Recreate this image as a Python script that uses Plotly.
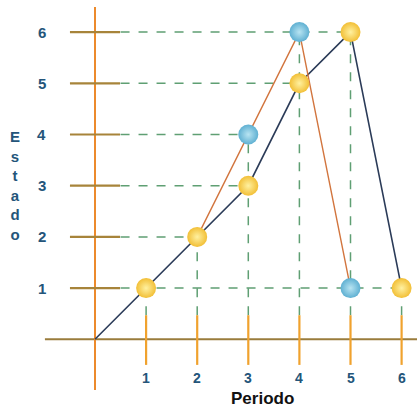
import plotly.graph_objects as go

# ---- data ----
periodo_ticks = [1, 2, 3, 4, 5, 6]
estado_ticks = [1, 2, 3, 4, 5, 6]

navy_periods = [0, 1, 2, 3, 4, 5, 6]
navy_states = [0, 1, 2, 3, 5, 6, 1]

orange_periods = [2, 3, 4, 5]
orange_states = [2, 4, 6, 1]

yellow_periods = [1, 2, 3, 4, 5, 6]
yellow_states = [1, 2, 3, 5, 6, 1]

blue_periods = [3, 4, 5]
blue_states = [4, 6, 1]

# ---- figure ----
fig = go.Figure()
shapes = []
annotations = []

GREEN = "#5f9f73"
all_pts = list(zip(yellow_periods + blue_periods, yellow_states + blue_states))

# dashed guide lines
for lvl in estado_ticks:
    xs = [p for p, s in all_pts if s == lvl]
    if xs:
        shapes.append(dict(type="line", x0=0.5, x1=max(xs), y0=lvl, y1=lvl,
                           line=dict(color=GREEN, width=1.5, dash="dash"), layer="below"))
for per in periodo_ticks:
    ys = [s for p, s in all_pts if p == per]
    if ys:
        shapes.append(dict(type="line", x0=per, x1=per, y0=0.47, y1=max(ys),
                           line=dict(color=GREEN, width=1.5, dash="dash"), layer="below"))

# axes
shapes.append(dict(type="line", x0=-0.98, x1=6.4, y0=0, y1=0,
                   line=dict(color="#9a7c3c", width=2), layer="below"))
shapes.append(dict(type="line", x0=0, x1=0, y0=-0.99, y1=6.49,
                   line=dict(color="#ec8a2c", width=2), layer="below"))
# tick segments
for lvl in estado_ticks:
    shapes.append(dict(type="line", x0=-0.49, x1=0.49, y0=lvl, y1=lvl,
                       line=dict(color="#a7843a", width=2.2), layer="below"))
for per in periodo_ticks:
    shapes.append(dict(type="line", x0=per, x1=per, y0=-0.5, y1=0.47,
                       line=dict(color="#f0a22e", width=2.2), layer="below"))

# lines
fig.add_trace(go.Scatter(x=navy_periods, y=navy_states, mode="lines",
                         line=dict(color="#2b3b58", width=1.6), hoverinfo="skip"))
fig.add_trace(go.Scatter(x=orange_periods, y=orange_states, mode="lines",
                         line=dict(color="#d2753e", width=1.4), hoverinfo="skip"))

# markers
fig.add_trace(go.Scatter(x=yellow_periods, y=yellow_states, mode="markers",
                         marker=dict(size=20, color="#f2bf36",
                                     gradient=dict(type="radial", color="#fff1a0"),
                                     line=dict(width=0))))
fig.add_trace(go.Scatter(x=blue_periods, y=blue_states, mode="markers",
                         marker=dict(size=20, color="#5fb0d2",
                                     gradient=dict(type="radial", color="#b8e4f2"),
                                     line=dict(width=0))))

LABEL = "#24557a"
FONT = "Liberation Sans, Arial"
for lvl in estado_ticks:
    annotations.append(dict(x=-1.04, y=lvl, text="<b>%d</b>" % lvl, showarrow=False,
                            font=dict(family=FONT, size=15, color=LABEL),
                            xanchor="center", yanchor="middle"))
for per in periodo_ticks:
    annotations.append(dict(x=per, y=-0.75, text="<b>%d</b>" % per, showarrow=False,
                            font=dict(family=FONT, size=14, color=LABEL),
                            xanchor="center", yanchor="middle"))

annotations.append(dict(xref="paper", yref="paper", x=262 / 417, y=1 - 398 / 408,
                        text="<b>Periodo</b>", showarrow=False,
                        font=dict(family=FONT, size=17, color="#111111"),
                        xanchor="center", yanchor="middle"))
annotations.append(dict(xref="paper", yref="paper", x=15 / 417, y=1 - 186 / 408,
                        text="<b>E<br>s<br>t<br>a<br>d<br>o</b>", showarrow=False,
                        font=dict(family=FONT, size=15, color=LABEL),
                        xanchor="center", yanchor="middle"))

fig.update_layout(
    width=417, height=408,
    margin=dict(l=0, r=0, t=0, b=0),
    paper_bgcolor="white", plot_bgcolor="white",
    showlegend=False,
    shapes=shapes, annotations=annotations,
    xaxis=dict(range=[-95 / 51.1, (417 - 95) / 51.1], visible=False, fixedrange=True),
    yaxis=dict(range=[-(408 - 339.3) / 51.2, 339.3 / 51.2], visible=False, fixedrange=True),
)

fig.write_html("out.html", config={"displayModeBar": False},
               post_script="document.body.style.margin='0';document.body.style.overflow='hidden';")
